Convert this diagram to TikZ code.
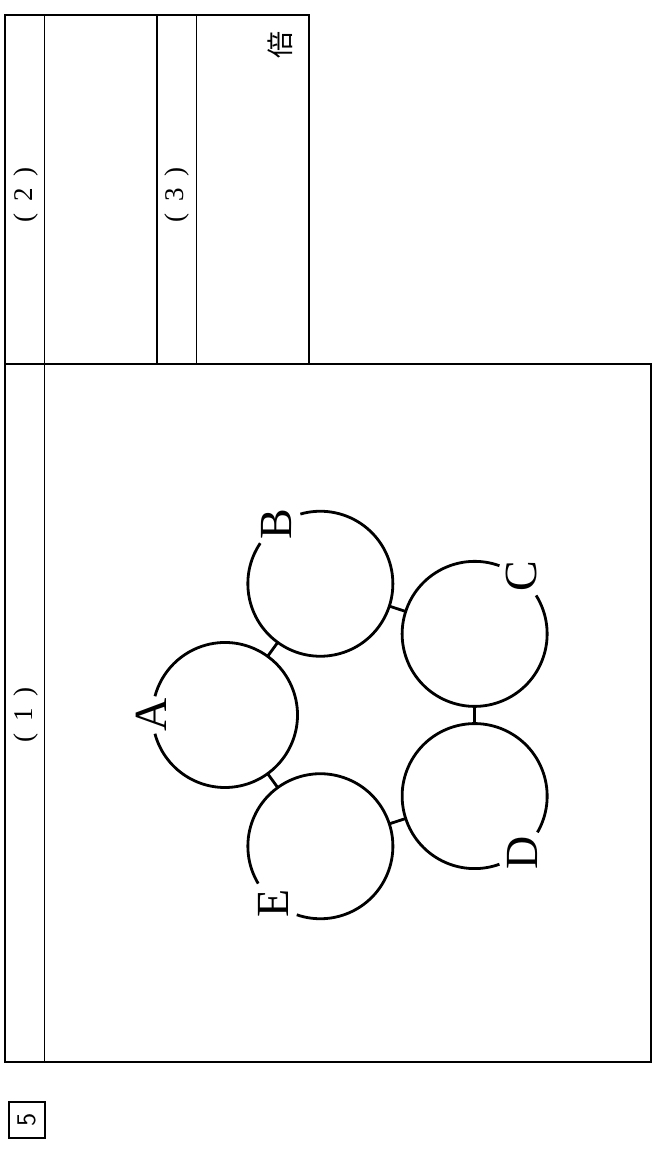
\documentclass[tikz,border=0pt]{standalone}
\usepackage{fontspec}
\setmainfont{Liberation Serif}
\newfontfamily\jpfont{Noto Sans CJK JP}
\usetikzlibrary{positioning}
\tikzset{
  every node/.style = {inner sep=0pt},              % text sits tight
  frame/.style      = {line width=1.1pt},           % outer borders
  rule/.style       = {line width=0.5pt},           % thin dividers
  wire/.style       = {line width=1.4pt},           % rings and links
  ring/.style       = {circle, minimum size=72.5pt, outer sep=0pt},
  letter/.style     = {rotate=90, font=\fontsize{23}{23}\selectfont},
  qnum/.style       = {rotate=90, font=\fontsize{13.5}{14}\selectfont},
  numbox/.style     = {draw, line width=0.8pt, minimum size=18pt,
                       font=\sffamily\fontsize{13.5}{14}\selectfont}
}
\newcommand{\paren}[1]{(\hspace{0.45em}#1\hspace{0.45em})}

\begin{document}
\begin{tikzpicture}[x=0.5pt,y=0.5pt]
  \useasboundingbox (0,0) rectangle (658,1149);
  % answer frames
  \draw[frame] (5,785) rectangle (309,1134);
  \draw[frame] (5,87) rectangle (651,785);
  \draw[frame] (157,785) -- (157,1134);
  \draw[rule] (44,87) -- (44,1134);
  \draw[rule] (196,785) -- (196,1134);
  \node[qnum] (q1) at (26,434) {\paren{1}};
  \node[qnum] (q2) at (26,954) {\paren{2}};
  \node[qnum] (q3) at (177,954) {\paren{3}};
  \node[rotate=90, font=\jpfont\fontsize{13.5}{14}\selectfont] (bai) at (280,1104) {倍};
  \node[numbox, rotate=90] (five) at (27,29) {5};
  % five rings
  \coordinate (mid) at (363,434);
  \foreach \n/\a in {A/180, B/108, C/36, D/-36, E/-108}
    \node[ring] (c\n) at ([shift={(\a:69pt)}]mid) {};
  \foreach \n/\g/\h in {A/180/15, B/126/20, C/51/19, D/-50/20, E/-129/20}{
    \draw[wire] ([shift={(\g+\h:36.25pt)}]c\n.center)
      arc[start angle=\g+\h, end angle=\g+360-\h, radius=36.25pt];
    \node[letter] (t\n) at ([shift={(\g:37pt)}]c\n.center) {\n};
  }
  \draw[wire] (cA) -- (cB);
  \draw[wire] (cB) -- (cC);
  \draw[wire] (cC) -- (cD);
  \draw[wire] (cD) -- (cE);
  \draw[wire] (cE) -- (cA);
\end{tikzpicture}
\end{document}
